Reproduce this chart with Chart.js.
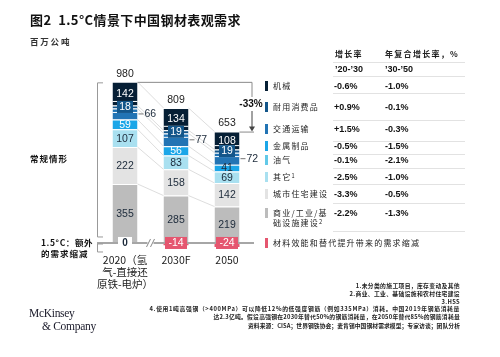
<!DOCTYPE html>
<html><head><meta charset="utf-8">
<script src="https://cdn.jsdelivr.net/npm/chart.js@4"></script>
<style>
body{margin:0;width:500px;height:357px;position:relative;background:#fff;overflow:hidden;font-family:"Noto Sans CJK SC","Liberation Sans",sans-serif;color:#1a1a1a}
.t{position:absolute;white-space:nowrap;line-height:1}
sup{font-size:70%;vertical-align:top;position:relative;top:-1px}
</style></head><body>
<canvas id="c" width="500" height="357" style="position:absolute;left:0;top:0"></canvas>
<script>
// ---------- data ----------
const categories = ['2020（氢气-直接还原铁-电炉）', '2030F', '2050'];
const tickLines = [['2020（氢', '气-直接还', '原铁-电炉）'], ['2030F'], ['2050']];
const totals = [980, 809, 653];
const commercial = [355, 285, 219];
const urban = [222, 158, 142];
const others = [107, 83, 69];
const metal = [59, 56, 41];
const transport = [66, 77, 72];
const durables = [18, 19, 19];
const machinery = [142, 134, 108];
const reduction = [0, -14, -24];
const totalChange = '-33%';
const seriesNames = ['机械', '耐用消费品', '交通运输', '金属制品', '油气', '其它', '城市住宅建设', '商业/工业/基础设施建设', '材料效能和替代提升带来的需求缩减'];
const growth2030 = ['-0.6%', '+0.9%', '+1.5%', '-0.5%', '-0.1%', '-2.5%', '-3.3%', '-2.2%', ''];
const cagr2050 = ['-1.0%', '-0.1%', '-0.3%', '-1.5%', '-2.1%', '-1.0%', '-0.5%', '-1.3%', ''];

// ---------- styles ----------
const C = {machinery:'#061f35', durables:'#13568a', transport:'#2274b4', metal:'#1ba6e8', oil:'#62c9e8', others:'#a9e0f0', urban:'#e3e3e3', commercial:'#bcbcbc', red:'#e5566f'};
const DARK = '#1c2a3a';
const segs = [
  {label:seriesNames[7], data:commercial, color:C.commercial, text:DARK, mode:'in'},
  {label:seriesNames[6], data:urban, color:C.urban, text:DARK, mode:'in'},
  {label:seriesNames[5], data:others, color:C.others, text:DARK, mode:'in'},
  {label:seriesNames[3], data:metal, color:C.metal, text:['#fff','#fff',DARK], mode:'in'},
  {label:seriesNames[2], data:transport, color:C.transport, text:DARK, mode:'out'},
  {label:seriesNames[1], data:durables, color:C.durables, text:'#fff', mode:'box'},
  {label:seriesNames[0], data:machinery, color:C.machinery, text:'#fff', mode:'in'}
];
const datasets = segs.map(s => ({label:s.label, data:s.data, backgroundColor:s.color, borderColor:'#fff', borderWidth:{top:1,bottom:0,left:0,right:0}, borderSkipped:false}));
datasets.push({label:seriesNames[8], data:reduction, backgroundColor:C.red, borderWidth:0});

const NUM = '"Liberation Sans", Arial, sans-serif';

const decor = {
  id:'decor',
  beforeDatasetsDraw(chart){
    const ctx = chart.ctx;
    ctx.save();
    ctx.strokeStyle = '#cfcfcf'; ctx.lineWidth = 0.7;
    for (let d = 0; d < segs.length; d++){
      const els = chart.getDatasetMeta(d).data;
      for (let i = 0; i < els.length - 1; i++){
        const a = els[i], b = els[i+1];
        ctx.beginPath();
        ctx.moveTo(a.x + a.width/2, a.y);
        ctx.lineTo(b.x - b.width/2, b.y);
        ctx.stroke();
      }
    }
    ctx.restore();
  },
  afterDatasetsDraw(chart){
    const ctx = chart.ctx, y = chart.scales.y, x = chart.scales.x;
    const y0 = y.getPixelForValue(0);
    ctx.save();
    // baseline
    ctx.strokeStyle = '#a6a6a6'; ctx.lineWidth = 2;
    ctx.beginPath(); ctx.moveTo(97, y0); ctx.lineTo(254, y0); ctx.stroke();
    // break marks
    const bx = (x.getPixelForValue(0) + x.getPixelForValue(1)) / 2;
    ctx.fillStyle = '#fff'; ctx.fillRect(bx - 3, y0 - 2, 6, 4);
    ctx.lineWidth = 1; ctx.strokeStyle = '#888';
    [-2, 2].forEach(o => { ctx.beginPath(); ctx.moveTo(bx + o - 2, y0 + 4); ctx.lineTo(bx + o + 2, y0 - 4); ctx.stroke(); });
    // segment labels
    ctx.font = '10.5px ' + NUM; ctx.textAlign = 'center'; ctx.textBaseline = 'middle';
    segs.forEach((s, d) => {
      chart.getDatasetMeta(d).data.forEach((el, i) => {
        const v = s.data[i]; const cy = (el.y + el.base) / 2;
        const col = Array.isArray(s.text) ? s.text[i] : s.text;
        if (s.mode === 'out'){
          const rx = el.x + el.width/2;
          ctx.strokeStyle = '#777'; ctx.lineWidth = 1;
          ctx.beginPath(); ctx.moveTo(rx + 1, cy); ctx.lineTo(rx + 6, cy); ctx.stroke();
          ctx.fillStyle = DARK; ctx.textAlign = 'left'; ctx.fillText(String(v), rx + 7, cy + 0.5); ctx.textAlign = 'center';
        } else if (s.mode === 'box'){
          const w = 16, h = 10;
          ctx.fillStyle = s.color; ctx.fillRect(el.x - w/2, cy - h/2, w, h);
          ctx.strokeStyle = '#fff'; ctx.lineWidth = 1;
          [cy - h/2 - 0.5, cy + h/2 + 0.5].forEach(yy => { ctx.beginPath(); ctx.moveTo(el.x - el.width/2, yy); ctx.lineTo(el.x + el.width/2, yy); ctx.stroke(); });
          ctx.fillStyle = s.color; ctx.fillRect(el.x - w/2, cy - h/2 - 1, w, h + 2);
          ctx.fillStyle = col; ctx.fillText(String(v), el.x, cy + 0.5);
        } else {
          ctx.fillStyle = col; ctx.fillText(String(v), el.x, cy + 0.5);
        }
      });
    });
    // reduction labels
    const rm = chart.getDatasetMeta(segs.length).data;
    rm.forEach((el, i) => {
      const v = reduction[i];
      if (v === 0){
        ctx.fillStyle = '#fff'; ctx.fillRect(el.x - 7, y0 - 6, 14, 12);
        ctx.fillStyle = DARK; ctx.font = 'bold 10px ' + NUM; ctx.fillText('0', el.x, y0 + 0.5);
      } else {
        ctx.fillStyle = C.red; ctx.fillRect(el.x - 11, y0 - 6, 22, 12);
        ctx.fillStyle = '#fff'; ctx.font = '10.5px ' + NUM; ctx.fillText(String(v), el.x, y0 + 0.5);
      }
    });
    // totals
    ctx.font = '10.5px ' + NUM; ctx.fillStyle = '#222';
    const topMeta = chart.getDatasetMeta(segs.length - 1).data;
    topMeta.forEach((el, i) => { ctx.fillText(String(totals[i]), el.x, el.y - 8); });
    // x tick labels
    ctx.font = '10.5px "Noto Sans CJK SC", ' + NUM; ctx.fillStyle = '#222';
    tickLines.forEach((lines, i) => {
      const cx = x.getPixelForValue(i);
      lines.forEach((l, k) => ctx.fillText(l, cx, 260 + k * 12));
    });
    // -33% bracket
    const a = topMeta[0], b = topMeta[2];
    const bxr = 252;
    ctx.strokeStyle = '#8a8a8a'; ctx.lineWidth = 1;
    ctx.beginPath(); ctx.moveTo(a.x + a.width/2, a.y + 0.5); ctx.lineTo(bxr, a.y + 0.5); ctx.lineTo(bxr, 97); ctx.stroke();
    ctx.strokeStyle = '#444';
    ctx.beginPath(); ctx.moveTo(bxr, 111); ctx.lineTo(bxr, b.y - 3); ctx.stroke();
    ctx.fillStyle = '#444';
    ctx.beginPath(); ctx.moveTo(bxr - 3, b.y - 5); ctx.lineTo(bxr + 3, b.y - 5); ctx.lineTo(bxr, b.y); ctx.closePath(); ctx.fill();
    ctx.strokeStyle = '#8a8a8a';
    ctx.beginPath(); ctx.moveTo(b.x + b.width/2, b.y + 0.5); ctx.lineTo(bxr + 2, b.y + 0.5); ctx.stroke();
    ctx.font = 'bold 10px ' + NUM; ctx.fillStyle = '#111';
    ctx.fillText(totalChange, bxr - 1, 104);
    // left brackets
    ctx.strokeStyle = '#999'; ctx.lineWidth = 1;
    ctx.beginPath(); ctx.moveTo(103, a.y + 1); ctx.lineTo(97.5, a.y + 1); ctx.lineTo(97.5, y0 - 6); ctx.lineTo(103, y0 - 6); ctx.stroke();
    ctx.beginPath(); ctx.moveTo(103, y0 + 1); ctx.lineTo(97.5, y0 + 1); ctx.lineTo(97.5, y0 + 9); ctx.lineTo(103, y0 + 9); ctx.stroke();
    ctx.restore();
  }
};

new Chart(document.getElementById('c'), {
  type:'bar',
  data:{labels:categories, datasets},
  options:{
    responsive:false, animation:false, devicePixelRatio:1,
    layout:{padding:{left:99.5, right:247.5, top:76.7, bottom:97.4}},
    plugins:{legend:{display:false}, tooltip:{enabled:false}},
    datasets:{bar:{categoryPercentage:1, barPercentage:0.49}},
    scales:{
      x:{display:false, stacked:true},
      y:{display:false, stacked:true, min:-100, max:1000}
    }
  },
  plugins:[decor]
});

// ---------- HTML text ----------
function T(html, x, y, css, right){
  const d = document.createElement('div'); d.className = 't'; d.innerHTML = html;
  d.style.cssText += (right ? 'right:' + (500 - x) + 'px;' : 'left:' + x + 'px;') + 'top:' + y + 'px;transform:translateY(-50%);' + (css || '');
  document.body.appendChild(d); return d;
}
function L(x1, x2, y, col){
  const d = document.createElement('div');
  d.style.cssText = 'position:absolute;left:' + x1 + 'px;top:' + y + 'px;width:' + (x2 - x1) + 'px;height:1px;background:' + col;
  document.body.appendChild(d);
}
T('图2&nbsp; 1.5°C情景下中国钢材表观需求', 30, 19, 'font-size:13px;font-weight:bold;letter-spacing:0.4px;color:#111');
T('百万公吨', 30, 41, 'font-size:8.5px;font-weight:bold;letter-spacing:1.8px;color:#333');
T('常规情形', 30, 158, 'font-size:8.5px;font-weight:bold;letter-spacing:1px;color:#111');
T('1.5°C：额外', 41, 242, 'font-size:8.5px;font-weight:bold;letter-spacing:0.6px;color:#111');
T('的需求缩减', 41, 253, 'font-size:8.5px;font-weight:bold;letter-spacing:1px;color:#111');

const HEADCSS = 'font-size:8px;font-weight:bold;letter-spacing:1.3px;color:#222';
T('增长率', 335, 54, HEADCSS);
T('年复合增长率，%', 385, 54, HEADCSS);
L(333, 465, 62, '#e2e2e2');
const VCSS = 'font-family:' + NUM + ';font-size:9px;font-weight:bold;color:#111';
T('&#8217;20-&#8217;30', 335, 69, VCSS);
T('&#8217;30-&#8217;50', 385, 69, VCSS);
L(333, 465, 76, '#e2e2e2');

const legendColors = [C.machinery, C.durables, C.transport, C.metal, C.oil, C.others, C.urban, C.commercial, C.red];
const legendHtml = ['机械', '耐用消费品', '交通运输', '金属制品', '油气', '其它<sup>1</sup>', '城市住宅建设', '商业/工业/基<br>础设施建设<sup>2</sup>', '材料效能和替代提升带来的需求缩减'];
const rowY = [86, 107, 129, 146, 160, 177, 194, 213, 243];
const sepY = [93, 120, 141, 154, 168, 184, 203, 231];
seriesNames.forEach((n, i) => {
  const m = document.createElement('div');
  m.style.cssText = 'position:absolute;left:265px;top:' + (rowY[i] - 5) + 'px;width:3px;height:10px;background:' + legendColors[i];
  document.body.appendChild(m);
  const two = legendHtml[i].includes('<br>');
  T(legendHtml[i], 273, rowY[i], 'font-size:8px;letter-spacing:1.2px;color:#222;line-height:10px;' + (two ? 'transform:translateY(-5px);' : ''));
  if (growth2030[i]) T(growth2030[i], 334, rowY[i], VCSS);
  if (cagr2050[i]) T(cagr2050[i], 385, rowY[i], VCSS);
});
sepY.forEach(yy => L(333, 465, yy, '#e2e2e2'));

const FN = 'font-size:5.8px;color:#222;font-weight:bold;';
T('1.未分类的施工项目，库存变动及其他', 460, 286, FN + 'letter-spacing:0.35px', true);
T('2.商业、工业、基础设施和农村住宅建设', 460, 294, FN + 'letter-spacing:0.35px', true);
T('3.HSS', 460, 302, FN + 'letter-spacing:0.35px', true);
T('4.使用1吨高强钢（>400MPa）可以降低12%的低强度钢筋（例如335MPa）消耗。中国2019年钢筋消耗量', 460, 309, FN + 'letter-spacing:0.65px', true);
T('达2.3亿吨。假设高强钢在2030年替代50%的钢筋消耗量，在2050年替代85%的钢筋消耗量', 460, 317, FN + 'letter-spacing:0.25px', true);
T('资料来源：CISA；世界钢铁协会；麦肯锡中国钢材需求模型；专家访谈；团队分析', 460, 326, FN + 'letter-spacing:0.05px', true);

const LOGO = 'font-family:"Liberation Serif","DejaVu Serif",serif;font-size:11.5px;color:#1a1a2a;letter-spacing:-0.3px';
T('McKinsey', 29, 314, LOGO);
T('&amp; Company', 42, 327, LOGO);
</script>
</body></html>
